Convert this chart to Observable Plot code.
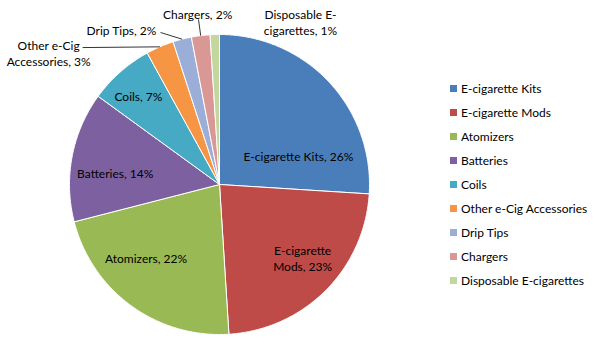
<!DOCTYPE html>
<html><head><meta charset="utf-8">
<script src="https://cdn.jsdelivr.net/npm/d3@7"></script>
<script src="https://cdn.jsdelivr.net/npm/@observablehq/plot@0.6"></script>
<style>
body{margin:0;background:#fff;font-family:Lato, sans-serif;}
#wrap{position:relative;width:599px;height:355px;overflow:hidden;background:#fff;}
#legend{position:absolute;left:450px;top:76px;}
#legend .lg-swatches{margin:0;font-family:Lato, sans-serif;font-size:12px;color:#000;}
#legend .lg-swatch{height:24px;padding:0;margin:0;}
#legend .lg-swatch svg{margin-right:4px;}
</style></head><body><div id="wrap"><div id="chart"></div><div id="legend"></div></div>
<script>
// ---- data ----
const categories = ["E-cigarette Kits","E-cigarette Mods","Atomizers","Batteries","Coils","Other e-Cig Accessories","Drip Tips","Chargers","Disposable E-cigarettes"];
const shares = [26,23,22,14,7,3,2,2,1];
const sliceLabels = ["E-cigarette Kits, 26%","E-cigarette\nMods, 23%","Atomizers, 22%","Batteries, 14%","Coils, 7%","Other e-Cig\nAccessories, 3%","Drip Tips, 2%","Chargers, 2%","Disposable E-\ncigarettes, 1%"];
const colors = ["#4A7EBB","#BE4B48","#98B954","#7D60A0","#46AAC5","#F69544","#9AAED8","#D99796","#C3D69B"];

// ---- layout (label placement, polar: degrees clockwise from top, fraction of radius) ----
const labelAngle  = [69.8,131.5,225.2,276.5,317.5,307.6,327.7,352.7,26.5];
const labelRadius = [0.56,0.74,0.69,0.70,0.80,1.438,1.223,1.149,1.21];
const leaderAngle  = [null,null,null,null,null,315,338.8,352.75,null];
const leaderRadius = [null,null,null,null,null,1.291,1.087,1.109,null];

const pie = d3.pie().sort(null).value(d => d)(shares);
const polys = [];
pie.forEach((p, i) => {
  const cat = categories[i];
  const n = Math.max(2, Math.ceil((p.endAngle - p.startAngle) / (Math.PI / 360)));
  polys.push({cat, x: 0, y: 0});
  for (let k = 0; k <= n; k++) {
    const a = p.startAngle + (p.endAngle - p.startAngle) * k / n;
    polys.push({cat, x: Math.sin(a), y: Math.cos(a)});
  }
  polys.push({cat, x: 0, y: 0});
});
const rad = d => d * Math.PI / 180;
const labels = categories.map((c, i) => ({
  text: sliceLabels[i],
  x: labelRadius[i] * Math.sin(rad(labelAngle[i])),
  y: labelRadius[i] * Math.cos(rad(labelAngle[i]))
}));
const leaders = [];
pie.forEach((p, i) => {
  if (leaderAngle[i] == null) return;
  const mid = (p.startAngle + p.endAngle) / 2;
  leaders.push({
    x1: leaderRadius[i] * Math.sin(rad(leaderAngle[i])),
    y1: leaderRadius[i] * Math.cos(rad(leaderAngle[i])),
    x2: Math.sin(mid), y2: Math.cos(mid)
  });
});

const chart = Plot.plot({
  width: 599, height: 355,
  marginLeft: 69, marginRight: 230, marginTop: 34, marginBottom: 21,
  x: {domain: [-1, 1], axis: null},
  y: {domain: [-1, 1], axis: null},
  color: {domain: categories, range: colors},
  style: {fontFamily: "Lato, sans-serif", fontSize: "12px", background: "white"},
  marks: [
    Plot.line(polys, {x: "x", y: "y", z: "cat", fill: "cat", stroke: "white", strokeWidth: 1, strokeLinejoin: "round"}),
    Plot.link(leaders, {x1: "x1", y1: "y1", x2: "x2", y2: "y2", stroke: "black", strokeWidth: 0.8}),
    Plot.text(labels, {x: "x", y: "y", text: "text", lineHeight: 1.33, fill: "black", fontSize: 12})
  ]
});
document.getElementById("chart").appendChild(chart);

const legend = Plot.legend({
  color: {domain: categories, range: colors},
  legend: "swatches", columns: 1, swatchSize: 7, className: "lg"
});
document.getElementById("legend").appendChild(legend);
</script></body></html>
